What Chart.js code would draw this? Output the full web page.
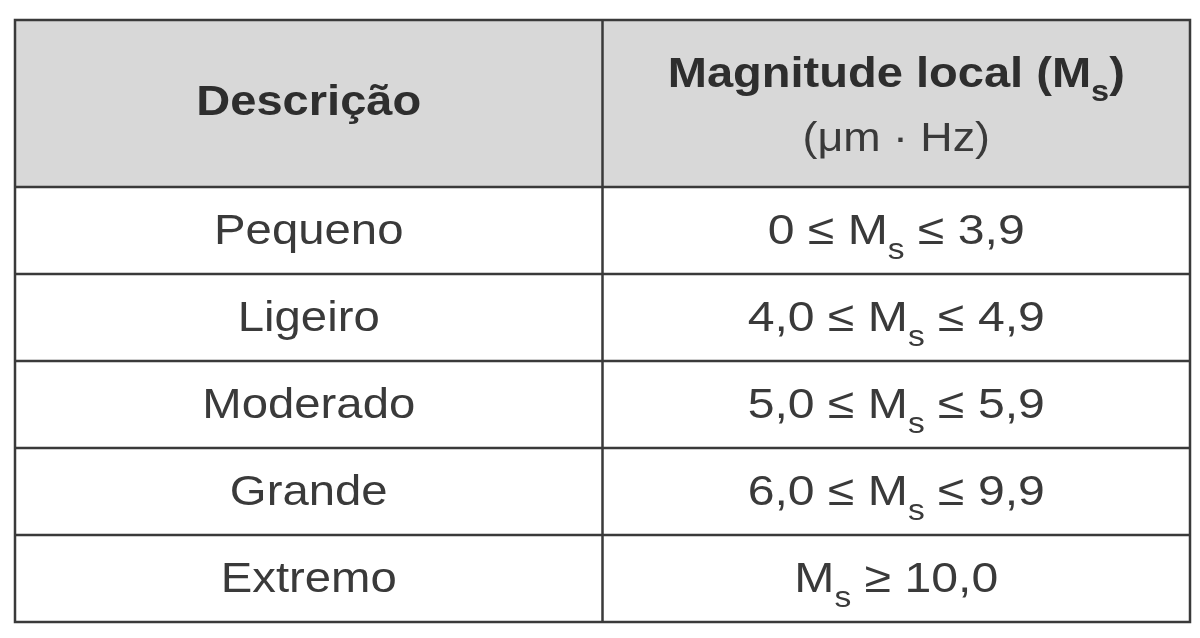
<!DOCTYPE html><html><head><meta charset="utf-8">
<script src="https://cdn.jsdelivr.net/npm/chart.js@4/dist/chart.umd.min.js"></script>
<style>html,body{margin:0;background:#fff}#c{display:block}</style></head><body>
<canvas id="c" width="1200" height="638"></canvas>
<script>
const headers = ["Descrição", "Magnitude local (M|s|)", "(μm · Hz)"];
const descriptions = ["Pequeno", "Ligeiro", "Moderado", "Grande", "Extremo"];
const ranges = ["0 ≤ M|s| ≤ 3,9", "4,0 ≤ M|s| ≤ 4,9", "5,0 ≤ M|s| ≤ 5,9", "6,0 ≤ M|s| ≤ 9,9", "M|s| ≥ 10,0"];
const headerRows = 1.92;
const FF = '"Liberation Sans", Arial, sans-serif';

function drawRich(ctx, str, cx, cy, size, bold, sx) {
  const parts = str.split('|');
  const main = (bold ? 'bold ' : '') + size + 'px ' + FF;
  const sub = (bold ? 'bold ' : '') + Math.round(size * 0.7) + 'px ' + FF;
  let w = 0;
  parts.forEach((p, i) => { ctx.font = i % 2 ? sub : main; w += ctx.measureText(p).width; });
  ctx.save();
  ctx.translate(cx, cy); ctx.scale(sx, 1);
  let x = -w / 2;
  ctx.textAlign = 'left'; ctx.textBaseline = 'middle';
  parts.forEach((p, i) => {
    ctx.font = i % 2 ? sub : main;
    ctx.fillText(p, x, i % 2 ? size * 0.42 : 0);
    x += ctx.measureText(p).width;
  });
  ctx.restore();
}

const tablePlugin = {
  id: 'table',
  afterDraw(chart) {
    const ctx = chart.ctx, xs = chart.scales.x, ys = chart.scales.y;
    const X = v => xs.getPixelForValue(v), Y = v => ys.getPixelForValue(v);
    ctx.save();
    ctx.fillStyle = '#d8d8d8';
    ctx.fillRect(X(0), Y(0), X(2) - X(0), Y(headerRows) - Y(0));
    ctx.strokeStyle = '#3a3a3a'; ctx.lineWidth = 2.5;
    ctx.strokeRect(X(0), Y(0), X(2) - X(0), Y(headerRows + descriptions.length) - Y(0));
    ctx.beginPath();
    ctx.moveTo(X(1), Y(0)); ctx.lineTo(X(1), Y(headerRows + descriptions.length));
    for (let i = 0; i < descriptions.length; i++) {
      ctx.moveTo(X(0), Y(headerRows + i)); ctx.lineTo(X(2), Y(headerRows + i));
    }
    ctx.stroke();
    ctx.fillStyle = '#2e2e2e';
    drawRich(ctx, headers[0], X(0.5), Y(headerRows / 2), 42, true, 1.12);
    drawRich(ctx, headers[1], X(1.5), Y(headerRows * 0.33), 42, true, 1.12);
    ctx.fillStyle = '#3a3a3a';
    drawRich(ctx, headers[2], X(1.5), Y(headerRows * 0.72), 40, false, 1.12);
    descriptions.forEach((d, i) => {
      drawRich(ctx, d, X(0.5), Y(headerRows + i + 0.52), 43, false, 1.1);
      drawRich(ctx, ranges[i], X(1.5), Y(headerRows + i + 0.52), 43, false, 1.12);
    });
    ctx.restore();
  }
};

new Chart(document.getElementById('c'), {
  type: 'scatter',
  data: { datasets: [{ data: [] }] },
  options: {
    responsive: false, animation: false,
    layout: { padding: { left: 15, right: 10, top: 20, bottom: 16 } },
    plugins: { legend: { display: false }, tooltip: { enabled: false } },
    scales: {
      x: { type: 'linear', min: 0, max: 2, display: false },
      y: { type: 'linear', min: 0, max: headerRows + descriptions.length, reverse: true, display: false }
    }
  },
  plugins: [tablePlugin]
});
</script></body></html>
